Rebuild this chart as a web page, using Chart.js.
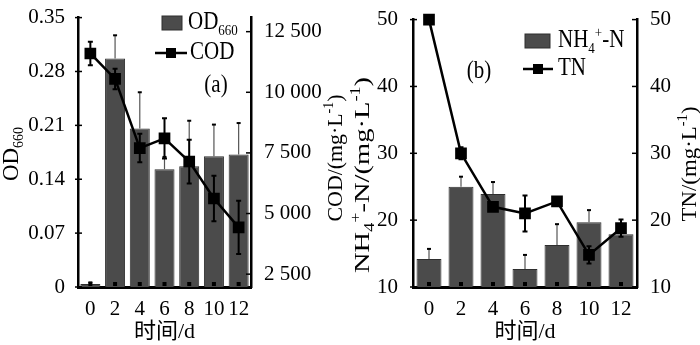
<!DOCTYPE html>
<html>
<head>
<meta charset="utf-8">
<script src="https://cdn.jsdelivr.net/npm/chart.js@4.4.1/dist/chart.umd.min.js"></script>
<style>
  html, body { margin: 0; padding: 0; background: #fff; }
  #wrap { position: relative; width: 700px; height: 345px; }
  canvas { position: absolute; top: 0; }
  #chart-a { left: 0; }
  #chart-b { left: 350px; }
</style>
</head>
<body>
<div id="wrap">
  <canvas id="chart-a" width="350" height="345"></canvas>
  <canvas id="chart-b" width="350" height="345"></canvas>
</div>
<script>
const days = ['0', '2', '4', '6', '8', '10', '12'];

// panel (a): OD660 bars + COD line
const od660 = [0.004, 0.297, 0.206, 0.153, 0.157, 0.170, 0.172];
const od660Err = [0.002, 0.030, 0.047, 0.016, 0.059, 0.041, 0.041];
const cod = [11600, 10550, 7700, 8100, 7140, 5620, 4430];
const codErr = [480, 420, 590, 830, 900, 940, 1100];
const odTicks = [0, 0.07, 0.14, 0.21, 0.28, 0.35];
const codTicks = [2500, 5000, 7500, 10000, 12500];

// panel (b): NH4+-N bars + TN line
const nh4 = [14.2, 25.0, 23.9, 12.7, 16.3, 19.7, 17.9];
const nh4Err = [1.5, 1.5, 1.8, 2.1, 3.1, 1.8, 1.2];
const tn = [50.0, 30.0, 22.0, 21.0, 22.8, 14.8, 18.8];
const tnErr = [0, 0.9, 0.3, 2.7, 0.2, 1.3, 1.3];
const nTicks = [10, 20, 30, 40, 50];

const FAMILY = "'Liberation Serif', 'Noto Sans CJK SC', serif";
Chart.defaults.font.family = FAMILY;
Chart.defaults.font.size = 21;
Chart.defaults.color = '#000';

const BAR_FILL = '#4b4b4b';
const BAR_EDGE = '#2e2e2e';

function spaced(v) {
  return String(v).replace(/\B(?=(\d{3})+(?!\d))/g, ' ');
}

// text with sub/superscripts, optionally rotated and stretched
function drawRich(ctx, parts, x, y, opt) {
  const size = opt.size || 21;
  const small = Math.round(size * 0.62);
  const fontFor = k => (k ? small : size) + 'px ' + FAMILY;
  let w = 0;
  parts.forEach(([t, k]) => { ctx.font = fontFor(k); w += ctx.measureText(t).width; });
  ctx.save();
  ctx.translate(x, y);
  if (opt.rot) ctx.rotate(opt.rot);
  ctx.scale(opt.length ? opt.length / w : 1, opt.ky || 1);
  let cx = opt.align === 'left' ? 0 : -w / 2;
  ctx.textBaseline = 'middle';
  ctx.textAlign = 'left';
  ctx.fillStyle = '#000';
  parts.forEach(([t, k]) => {
    ctx.font = fontFor(k);
    const dy = k === 'sub' ? size * 0.34 : k === 'sup' ? -size * 0.32 : 0;
    ctx.fillText(t, cx, dy);
    cx += ctx.measureText(t).width;
  });
  ctx.restore();
}

const errorBars = {
  id: 'errorBars',
  afterDatasetDraw(chart, args) {
    const ds = chart.data.datasets[args.index];
    if (!ds.errors) return;
    const ctx = chart.ctx;
    const yScale = chart.scales[args.meta.yAxisID];
    ctx.save();
    args.meta.data.forEach((el, i) => {
      const v = ds.data[i], e = ds.errors[i];
      if (!e) return;
      const x = el.x;
      if (ds.type === 'bar') {
        const top = yScale.getPixelForValue(v + e);
        ctx.strokeStyle = '#555';
        ctx.lineWidth = 1.2;
        ctx.beginPath(); ctx.moveTo(x, el.y); ctx.lineTo(x, top); ctx.stroke();
        ctx.strokeStyle = '#000';
        ctx.lineWidth = 2;
        ctx.beginPath(); ctx.moveTo(x - 2, top); ctx.lineTo(x + 2, top); ctx.stroke();
      } else {
        const hi = yScale.getPixelForValue(v + e);
        const lo = yScale.getPixelForValue(v - e);
        ctx.strokeStyle = '#000';
        ctx.lineWidth = 2;
        ctx.beginPath(); ctx.moveTo(x, hi); ctx.lineTo(x, lo); ctx.stroke();
        ctx.beginPath();
        ctx.moveTo(x - 2.5, hi); ctx.lineTo(x + 2.5, hi);
        ctx.moveTo(x - 2.5, lo); ctx.lineTo(x + 2.5, lo);
        ctx.stroke();
      }
    });
    ctx.restore();
  }
};

const panelDeco = {
  id: 'panelDeco',
  afterDraw(chart, args, opts) {
    const ctx = chart.ctx;
    const area = chart.chartArea;
    ctx.save();
    // tick marks pointing into the plot
    ctx.strokeStyle = '#000';
    ctx.lineWidth = 1.5;
    ['y', 'y1'].forEach(id => {
      const s = chart.scales[id];
      s.ticks.forEach(t => {
        const py = s.getPixelForValue(t.value);
        ctx.beginPath();
        if (id === 'y') { ctx.moveTo(area.left - 3, py); ctx.lineTo(area.left + 4, py); }
        else { ctx.moveTo(area.right - 5, py); ctx.lineTo(area.right, py); }
        ctx.stroke();
      });
    });
    const xs = chart.scales.x;
    ctx.fillStyle = '#000';
    days.forEach((d, i) => {
      const px = xs.getPixelForValue(i);
      ctx.fillRect(px - 2, area.bottom - 5, 4, 4);
    });

    (opts.titles || []).forEach(t => {
      drawRich(ctx, t.parts, t.x, t.y, { rot: -Math.PI / 2, length: t.length, size: t.size });
    });

    (opts.legend || []).forEach(item => {
      const ds = chart.data.datasets[item.dataset];
      if (ds.type === 'bar') {
        ctx.fillStyle = ds.backgroundColor;
        ctx.fillRect(item.x, item.y - item.h / 2, item.w, item.h);
        ctx.strokeStyle = ds.borderColor;
        ctx.lineWidth = 1;
        ctx.strokeRect(item.x, item.y - item.h / 2, item.w, item.h);
      } else {
        ctx.strokeStyle = ds.borderColor;
        ctx.lineWidth = ds.borderWidth;
        ctx.beginPath(); ctx.moveTo(item.x, item.y); ctx.lineTo(item.x + item.w, item.y); ctx.stroke();
        ctx.fillStyle = ds.pointBackgroundColor;
        ctx.fillRect(item.x + item.w / 2 - 5, item.y - 5, 10, 10);
      }
      drawRich(ctx, item.parts, item.x + item.w + item.gap, item.y, { align: 'left', ky: 1.15 });
    });

    if (opts.label) {
      drawRich(ctx, [[opts.label.text, '']], opts.label.x, opts.label.y, { ky: 1.15 });
    }
    ctx.restore();
  }
};

function yAxis(pos, min, max, ticks, width, fmt, pad) {
  return {
    position: pos,
    min: min,
    max: max,
    afterBuildTicks: s => { s.ticks = ticks.map(v => ({ value: v })); },
    grid: { display: false },
    border: { color: '#000', width: 2.5 },
    ticks: { padding: pad, callback: fmt },
    afterFit: s => { s.width = width; }
  };
}

function xAxis() {
  return {
    offset: true,
    grid: { display: false },
    border: { color: '#000', width: 3 },
    ticks: { padding: 2, maxRotation: 0, autoSkip: false },
    title: { display: true, text: '时间/d', padding: 0, font: { size: 22 } },
    afterFit: s => { s.height = 58; }
  };
}

new Chart(document.getElementById('chart-a'), {
  data: {
    labels: days,
    datasets: [
      {
        type: 'line', label: 'COD', data: cod, errors: codErr, yAxisID: 'y1', order: 0,
        borderColor: '#000', borderWidth: 2.5, tension: 0, clip: false,
        pointStyle: 'rect', pointRadius: 6.5, pointBackgroundColor: '#000', pointBorderColor: '#000'
      },
      {
        type: 'bar', label: 'OD660', data: od660, errors: od660Err, yAxisID: 'y', order: 1,
        backgroundColor: BAR_FILL, borderColor: BAR_EDGE, borderWidth: 1,
        barPercentage: 0.81, categoryPercentage: 1
      }
    ]
  },
  options: {
    responsive: false,
    animation: false,
    devicePixelRatio: 1,
    layout: { padding: { top: 14, left: 0, right: 0, bottom: 0 } },
    scales: {
      x: xAxis(),
      y: yAxis('left', 0, 0.35, odTicks, 78, v => (v === 0 ? '0' : v.toFixed(2)), 5),
      y1: yAxis('right', 1970, 13080, codTicks, 99, v => spaced(v), 5)
    },
    plugins: {
      legend: { display: false },
      tooltip: { enabled: false },
      panelDeco: {
        titles: [
          { parts: [['OD', ''], ['660', 'sub']], x: 12, y: 154, length: 54, size: 23 },
          { parts: [['COD/(mg·L', ''], ['-1', 'sup'], [')', '']], x: 336, y: 158, length: 127, size: 22 }
        ],
        legend: [
          { dataset: 1, x: 162, y: 23, w: 20, h: 14, gap: 6, parts: [['OD', ''], ['660', 'sub']] },
          { dataset: 0, x: 155, y: 53, w: 32, h: 0, gap: 3, parts: [['COD', '']] }
        ],
        label: { text: '(a)', x: 216, y: 86 }
      }
    }
  },
  plugins: [errorBars, panelDeco]
});

new Chart(document.getElementById('chart-b'), {
  data: {
    labels: days,
    datasets: [
      {
        type: 'line', label: 'TN', data: tn, errors: tnErr, yAxisID: 'y1', order: 0,
        borderColor: '#000', borderWidth: 2.5, tension: 0, clip: false,
        pointStyle: 'rect', pointRadius: 6.5, pointBackgroundColor: '#000', pointBorderColor: '#000'
      },
      {
        type: 'bar', label: 'NH4+-N', data: nh4, errors: nh4Err, yAxisID: 'y', order: 1,
        backgroundColor: BAR_FILL, borderColor: BAR_EDGE, borderWidth: 1,
        barPercentage: 0.78, categoryPercentage: 1
      }
    ]
  },
  options: {
    responsive: false,
    animation: false,
    devicePixelRatio: 1,
    layout: { padding: { top: 13, left: 0, right: 0, bottom: 0 } },
    scales: {
      x: xAxis(),
      y: yAxis('left', 10, 50, nTicks, 63, v => String(v), 7),
      y1: yAxis('right', 10, 50, nTicks, 63, v => String(v), 5)
    },
    plugins: {
      legend: { display: false },
      tooltip: { enabled: false },
      panelDeco: {
        titles: [
          { parts: [['NH', ''], ['4', 'sub'], ['+', 'sup'], ['-N/(mg·L', ''], ['-1', 'sup'], [')', '']], x: 13, y: 175, length: 196, size: 22 },
          { parts: [['TN/(mg·L', ''], ['-1', 'sup'], [')', '']], x: 340, y: 164, length: 115, size: 22 }
        ],
        legend: [
          { dataset: 1, x: 175, y: 41, w: 25, h: 14, gap: 8, parts: [['NH', ''], ['4', 'sub'], ['+', 'sup'], ['-N', '']] },
          { dataset: 0, x: 173, y: 69, w: 30, h: 0, gap: 5, parts: [['TN', '']] }
        ],
        label: { text: '(b)', x: 129, y: 72 }
      }
    }
  },
  plugins: [errorBars, panelDeco]
});
</script>
</body>
</html>
